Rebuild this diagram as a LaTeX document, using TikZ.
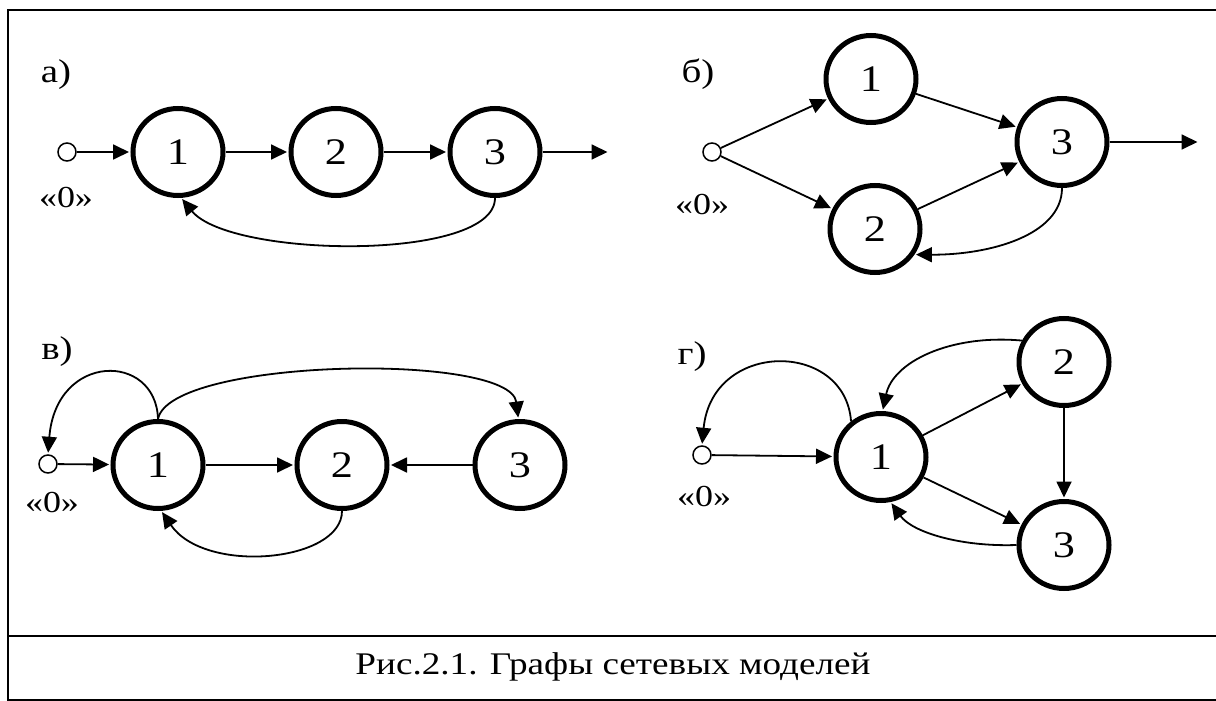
\documentclass[tikz,border=0pt]{standalone}
\usepackage{fontspec}
\setmainfont{Liberation Serif}[FakeStretch=1.18]
\usetikzlibrary{arrows.meta,shapes.geometric}
\begin{document}
\begin{tikzpicture}[x=1pt,y=-1pt,
  st/.style={ellipse,draw,line width=5pt,minimum width=90pt,minimum height=87pt,inner sep=0pt,font=\fontsize{37.5}{44}\selectfont},
  src/.style={circle,draw,line width=1.5pt,minimum size=18pt,inner sep=0pt,fill=white},
  arr/.style={line width=1.8pt,-{Triangle[length=16pt,width=15pt]},shorten >=1.5pt},
  lbl/.style={font=\fontsize{33}{39}\selectfont,inner sep=0pt},
  zlbl/.style={font=\fontsize{30.5}{36}\selectfont,inner sep=0pt},
  captext/.style={font=\fontsize{31.5}{37}\selectfont,inner sep=0pt}]
\useasboundingbox (0,0) rectangle (1216,701);
\draw[line width=2pt] (1220,10) -- (8,10) -- (8,700) -- (1220,700);
\draw[line width=2pt] (8,636) -- (1220,636);
\node[captext] (caption) at (613,667) {Рис.2.1. Графы сетевых моделей};

% ---------- а)
\node[lbl] (la) at (56,75) {а)};
\node[src] (s0a) at (67,152) {};
\node[zlbl] (za) at (66,198) {«0»};
\node[st] (a1) at (178,152) {1};
\node[st] (a2) at (336,152) {2};
\node[st] (a3) at (495,152) {3};
\coordinate (aout) at (609,152);
\draw[arr] (s0a) -- (a1);
\draw[arr] (a1) -- (a2);
\draw[arr] (a2) -- (a3);
\draw[arr] (a3) -- (aout);
\draw[arr] (a3.-90) .. controls (495,262) and (230,258) .. (a1.-86);

% ---------- б)
\node[lbl] (lb) at (698,74) {б)};
\node[src] (s0b) at (712,152) {};
\node[zlbl] (zb) at (702,205) {«0»};
\node[st] (b1) at (871,79) {1};
\node[st] (b2) at (875,229) {2};
\node[st] (b3) at (1062,142) {3};
\coordinate (bout) at (1199,142);
\draw[arr] (s0b) -- (b1);
\draw[arr] (s0b) -- (b2);
\draw[arr] (b1) -- (b3);
\draw[arr] (b2) -- (b3);
\draw[arr] (b3) -- (bout);
\draw[arr] (b3.-90) .. controls (1062,235) and (990,255) .. (b2.-33);

% ---------- в)
\node[lbl] (lc) at (57,352) {в)};
\node[src] (s0c) at (48,464) {};
\node[zlbl] (zc) at (52,503) {«0»};
\node[st] (c1) at (158,465) {1};
\node[st] (c2) at (342,465) {2};
\node[st] (c3) at (520,465) {3};
\draw[arr] (s0c) -- (c1);
\draw[arr] (c1) -- (c2);
\draw[arr] (c3) -- (c2);
\draw[arr] (c1.90) .. controls (156,352) and (56,352) .. (s0c.90);
\draw[arr] (c1.90) .. controls (170,358) and (510,352) .. (c3.92);
\draw[arr] (c2.-90) .. controls (342,562) and (205,575) .. (c1.-86);

% ---------- г)
\node[lbl] (ld) at (692,357) {г)};
\node[src] (s0d) at (702,455) {};
\node[zlbl] (zd) at (704,497) {«0»};
\node[st] (d1) at (881,457) {1};
\node[st] (d2) at (1064,362) {2};
\node[st] (d3) at (1064,545) {3};
\draw[arr] (s0d) -- (d1);
\draw[arr] (d1) -- (d2);
\draw[arr] (d2) -- (d3);
\draw[arr] (d1) -- (d3);
\draw[arr] (d1.130) .. controls (845,340) and (712,340) .. (s0d.90);
\draw[arr] (d2.153) .. controls (950,334) and (893,362) .. (d1.88);
\draw[arr] (d3.180) .. controls (960,547) and (912,532) .. (d1.-78);
\end{tikzpicture}
\end{document}
